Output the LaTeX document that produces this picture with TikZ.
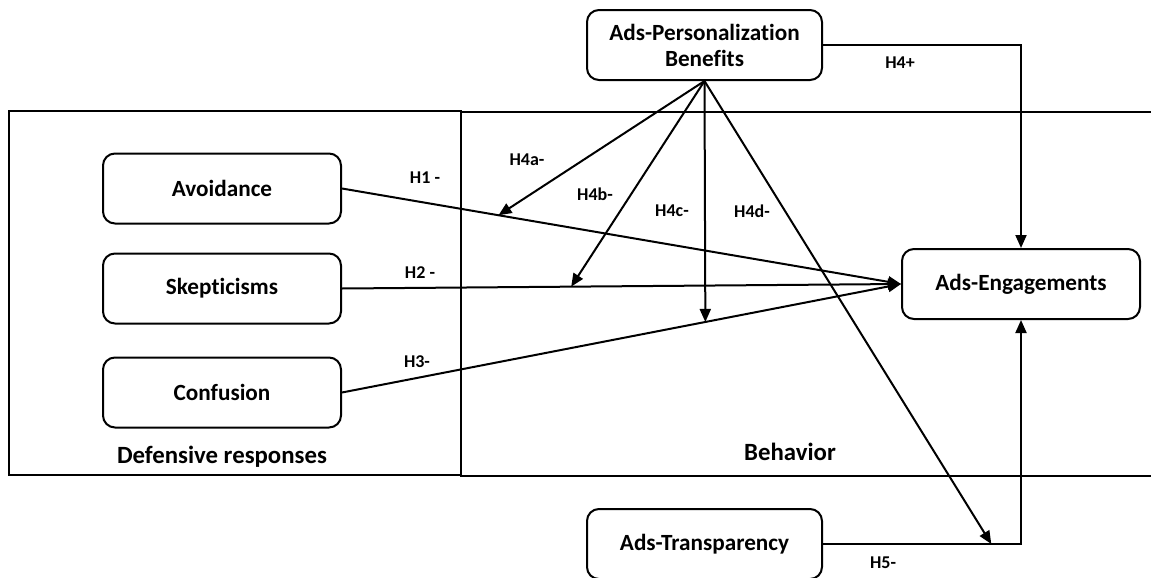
\documentclass[tikz,border=0pt]{standalone}
\usepackage{fontspec}
\setmainfont{Carlito}[Ligatures=NoCommon]
\usetikzlibrary{arrows.meta,positioning,calc}

\begin{document}
\begin{tikzpicture}[
  x=0.5pt, y=-0.5pt,
  font=\fontsize{11.6}{13}\selectfont\bfseries,
  node distance=14pt and 20pt,
  box/.style={draw,line width=1pt,rounded corners=6pt,align=center,minimum width=119pt,minimum height=35pt,inner sep=2pt},
  frame/.style={line width=1pt},
  grp/.style={font=\fontsize{12.4}{14}\selectfont\bfseries,inner sep=0pt},
  lab/.style={font=\fontsize{9}{11}\selectfont\bfseries,inner sep=0pt},
  arr/.style={-{Triangle[length=6.5pt,width=5.5pt]},line width=1pt}
]
\useasboundingbox (0,0) rectangle (1151,578);

% ---------- groups ----------
\draw[frame] (9,111) rectangle (461,475);
\draw[frame] (1151,112) -- (461,112) -- (461,476) -- (1151,476);
\node[grp] (defl) at (222,457) {Defensive responses};
\node[grp] (behl) at (790,452) {Behavior};

% ---------- defensive responses ----------
\node[box] (avoid) at (222,188.5) {Avoidance};
\node[box,below=14pt of avoid] (skep) {Skepticisms};
\node[box,below=16pt of skep] (conf) {Confusion};

% ---------- moderators and outcome ----------
\node[box,right=279.5pt of skep,yshift=2.25pt] (eng) {Ads-Engagements};
\node[box,minimum width=117.5pt] (pers) at (704.5,45) {Ads-Personalization\\ Benefits};
\node[box,minimum width=117.5pt,below=213.5pt of pers] (trans) {Ads-Transparency};

% ---------- direct paths ----------
\draw[arr] (avoid.east) -- (eng.west);
\draw[arr] (skep.east) -- (eng.west);
\draw[arr] (conf.east) -- (eng.west);
\draw[arr] (pers.east) -| (eng.north);
\draw[arr] (trans.east) -| (eng.south);

% ---------- moderation ----------
\coordinate (tj) at (eng.south |- trans.east);
\coordinate (mavoid) at ($(avoid.east)!0.28!(eng.west)$);
\coordinate (mskep) at ($(skep.east)!0.41!(eng.west)$);
\coordinate (mconf) at ($(conf.east)!0.65!(eng.west)$);
\coordinate (mtrans) at ($(trans.east)!0.85!(tj)$);
\draw[arr] (pers.south) -- (mavoid);
\draw[arr] (pers.south) -- (mskep);
\draw[arr] (pers.south) -- (mconf);
\draw[arr] (pers.south) -- (mtrans);

% ---------- hypotheses ----------
\node[lab] (h1) at (425,178) {H1 -};
\node[lab] (h2) at (420,273) {H2 -};
\node[lab] (h3) at (417,362) {H3-};
\node[lab] (h4) at (900,63) {H4+};
\node[lab] (h4a) at (527,160) {H4a-};
\node[lab] (h4b) at (595,194) {H4b-};
\node[lab] (h4c) at (672,211) {H4c-};
\node[lab] (h4d) at (752,211) {H4d-};
\node[lab] (h5) at (883,563) {H5-};

\end{tikzpicture}
\end{document}
